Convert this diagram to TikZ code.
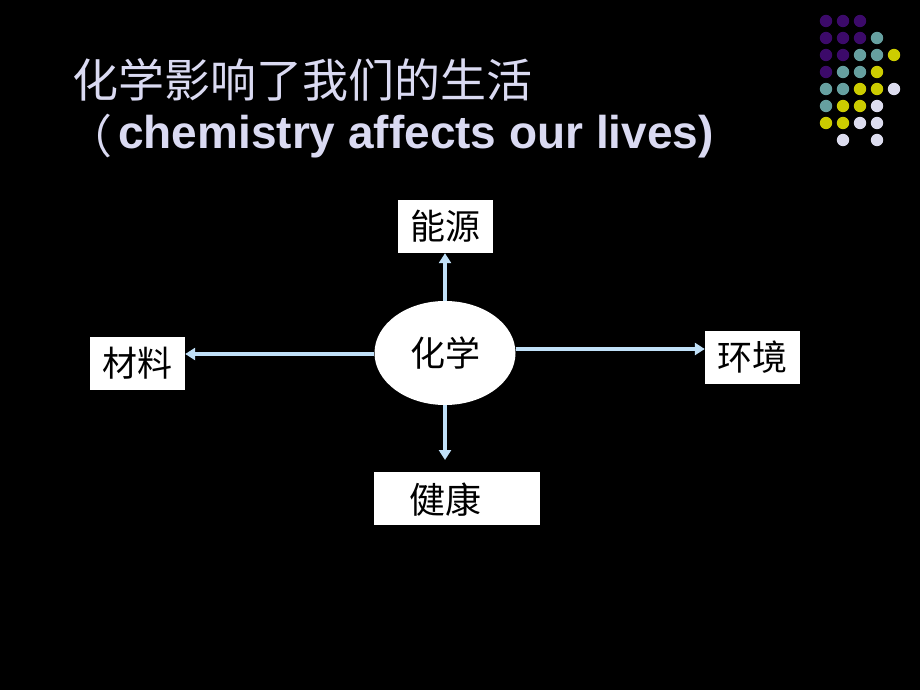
\documentclass[tikz,border=0pt]{standalone}
\usepackage{fontspec}
\setmainfont{Liberation Sans}
\newfontfamily\cjk{Noto Sans CJK SC}
\usetikzlibrary{arrows.meta,shapes.geometric}
\definecolor{dpurple}{HTML}{3C0A6A}
\definecolor{dteal}{HTML}{66A0A0}
\definecolor{dyellow}{HTML}{CCCC00}
\definecolor{dlav}{HTML}{DCDCEE}
\definecolor{titlecol}{HTML}{DADAF2}
\definecolor{arrowcol}{HTML}{C0E0F8}
\tikzset{
  box/.style={draw=none,fill=white,inner sep=0pt,font=\cjk\fontsize{35}{35}\selectfont,text=black},
  link/.style={draw=arrowcol,line width=3.4pt,-{Triangle[length=10pt,width=12pt]}},
}
\begin{document}
\begin{tikzpicture}[x=1pt,y=-1pt]
\fill[black] (0,0) rectangle (920,690);
\useasboundingbox (0,0) rectangle (920,690);
% dots
\foreach \c/\x/\y in {dpurple/0/0,dpurple/1/0,dpurple/2/0,
  dpurple/0/1,dpurple/1/1,dpurple/2/1,dteal/3/1,
  dpurple/0/2,dpurple/1/2,dteal/2/2,dteal/3/2,dyellow/4/2,
  dpurple/0/3,dteal/1/3,dteal/2/3,dyellow/3/3,
  dteal/0/4,dteal/1/4,dyellow/2/4,dyellow/3/4,dlav/4/4,
  dteal/0/5,dyellow/1/5,dyellow/2/5,dlav/3/5,
  dyellow/0/6,dyellow/1/6,dlav/2/6,dlav/3/6,
  dlav/1/7,dlav/3/7}
  \fill[\c] (826+17*\x,21+17*\y) circle (6.2);
% title
\node[anchor=west,text=titlecol,inner sep=0pt,font=\cjk\fontsize{46}{46}\selectfont] (t1) at (72,80) {化学影响了我们的生活};
\node[anchor=west,text=titlecol,inner sep=0pt,font=\cjk\fontsize{46}{46}\selectfont] (tp) at (66,136) {（};
\node[anchor=west,text=titlecol,inner sep=0pt,font=\fontsize{46}{46}\selectfont\bfseries] (t2) at (118,137) {chemistry affects our lives)};
% nodes
\node[ellipse,fill=white,minimum width=141pt,minimum height=104pt,inner sep=0pt,font=\cjk\fontsize{35}{35}\selectfont] (chem) at (445,353) {化学};
\node[box,minimum width=95pt,minimum height=53pt] (energy) at (445.5,226.5) {能源};
\node[box,minimum width=95pt,minimum height=53pt] (mat) at (137.5,363.5) {材料};
\node[box,minimum width=95pt,minimum height=53pt] (env) at (752.5,357.5) {环境};
\node[box,minimum width=166pt,minimum height=53pt] (health) at (457,498.5) {};
\node[font=\cjk\fontsize{36}{36}\selectfont,inner sep=0pt] (healthtxt) at (445,500) {健康};
\coordinate (hend) at (445,460);
% arrows
\draw[link] (chem.north) -- (chem.north |- energy.south);
\draw[link] (chem.west |- 0,354) -- (mat.east |- 0,354);
\draw[link] (chem.east |- 0,349) -- (env.west |- 0,349);
\draw[link] (chem.south) -- (hend);
\end{tikzpicture}
\end{document}
